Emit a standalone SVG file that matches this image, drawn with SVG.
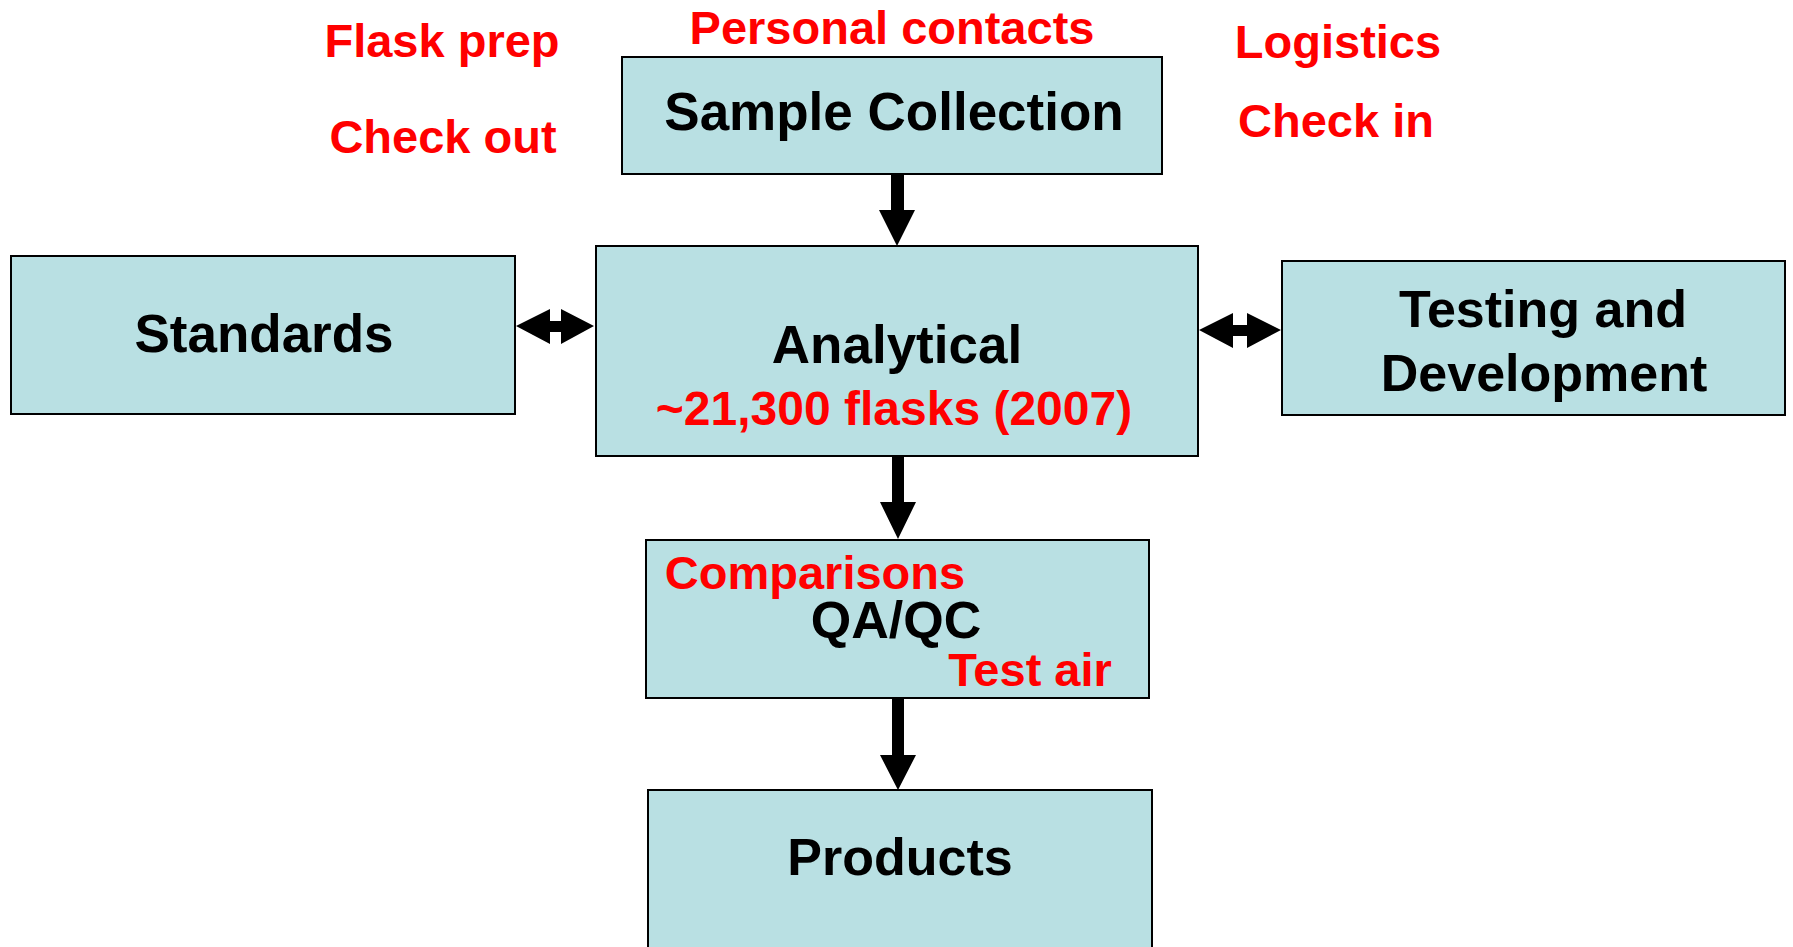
<svg xmlns="http://www.w3.org/2000/svg" width="1793" height="947" viewBox="0 0 1793 947">
<style>
.box{fill:#B9E0E3;stroke:#000;stroke-width:2}
.t{font-family:"Liberation Sans",Arial,sans-serif;font-weight:bold;text-anchor:middle}
.blk{fill:#000;font-size:52px}
.red{fill:#FF0000;font-size:47px}
.arr{fill:#000}
</style>
<rect width="1793" height="947" fill="#fff"/>
<g id="labels-top">
<text class="t red" x="442" y="57">Flask prep</text>
<text class="t red" x="443" y="153">Check out</text>
<text class="t red" x="892" y="44">Personal contacts</text>
<text class="t red" x="1338" y="58">Logistics</text>
<text class="t red" x="1336" y="137">Check in</text>
</g>
<g id="sample-collection">
<rect class="box" x="622" y="57" width="540" height="117"/>
<text class="t blk" x="894" y="130" style="font-size:53px">Sample Collection</text>
</g>
<g id="analytical">
<rect class="box" x="596" y="246" width="602" height="210"/>
<text class="t blk" x="897" y="363" style="font-size:53px">Analytical</text>
<text class="t red" x="894" y="425" style="font-size:48px">~21,300 flasks (2007)</text>
</g>
<g id="standards">
<rect class="box" x="11" y="256" width="504" height="158"/>
<text class="t blk" x="264" y="352" style="font-size:53px">Standards</text>
</g>
<g id="testing">
<rect class="box" x="1282" y="261" width="503" height="154"/>
<text class="t blk" x="1543" y="327">Testing and</text>
<text class="t blk" x="1544" y="391">Development</text>
</g>
<g id="qaqc">
<rect class="box" x="646" y="540" width="503" height="158"/>
<text class="t red" x="815" y="589">Comparisons</text>
<text class="t blk" x="896" y="638">QA/QC</text>
<text class="t red" x="1030" y="686">Test air</text>
</g>
<g id="products">
<rect class="box" x="648" y="790" width="504" height="170"/>
<text class="t blk" x="900" y="875">Products</text>
</g>
<g id="connectors">
<polygon class="arr" points="891,174 904,174 904,210 915,210 897,246 879,210 891,210"/>
<polygon class="arr" points="892,457 904,457 904,502 916,502 898,539 880,502 892,502"/>
<polygon class="arr" points="892,698 904,698 904,755 916,755 898,790 880,755 892,755"/>
<polygon class="arr" points="516,326 550,309 550,321 561,321 561,309 594,326 561,344 561,332 550,332 550,344"/>
<polygon class="arr" points="1199,330 1233,313 1233,325 1247,325 1247,313 1281,330 1247,348 1247,336 1233,336 1233,348"/>
</g>
</svg>
